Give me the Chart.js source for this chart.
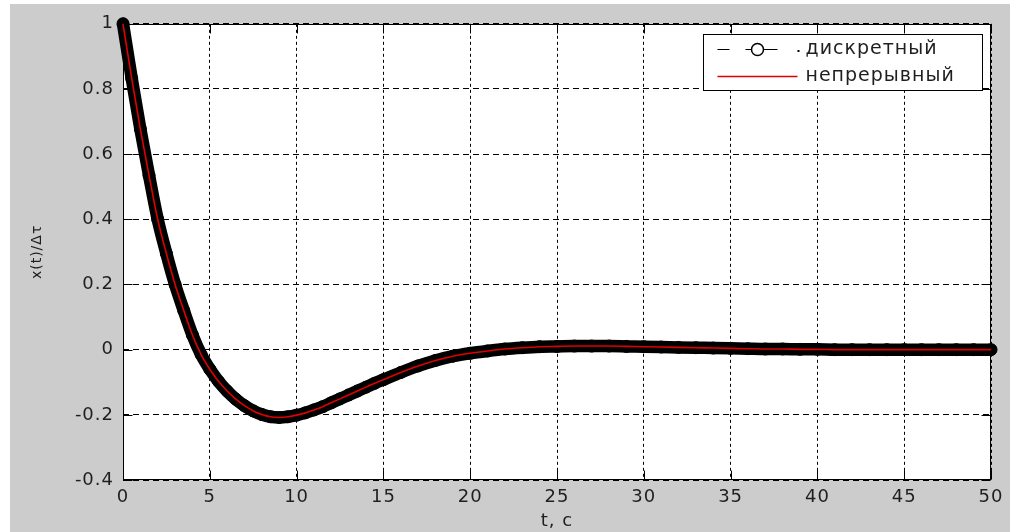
<!DOCTYPE html>
<html><head><meta charset="utf-8">
<script src="https://cdn.jsdelivr.net/npm/chart.js@4/dist/chart.umd.min.js"></script>
<style>
html,body{margin:0;padding:0;background:#fff;overflow:hidden;}
#wrap{position:absolute;left:10px;top:4px;width:1000px;height:528px;background:#cccccc;}
canvas{display:block;}
</style></head><body>
<div id="wrap"><canvas id="c" width="1000" height="528"></canvas></div>
<script>
// ---- data ----
const tValues = [0,0.5,1,1.5,2,2.5,3,3.5,4,4.5,5,5.5,6,6.5,7,7.5,8,8.5,9,9.5,10,10.5,11,11.5,12,12.5,13,13.5,14,14.5,15,16,17,18,19,20,21,22,23,24,25,26,27,28,29,30,31,32,33,34,35,36,37,38,39,40,41,42,43,44,45,46,47,48,49,50];
const xValues = [1.0,0.833,0.677,0.535,0.40,0.295,0.20,0.12,0.045,-0.015,-0.06,-0.097,-0.127,-0.152,-0.172,-0.188,-0.199,-0.206,-0.208,-0.206,-0.201,-0.194,-0.185,-0.175,-0.163,-0.151,-0.139,-0.127,-0.115,-0.103,-0.092,-0.070,-0.050,-0.033,-0.020,-0.011,-0.004,0.002,0.006,0.009,0.010,0.011,0.011,0.011,0.010,0.009,0.008,0.007,0.006,0.005,0.004,0.003,0.002,0.002,0.001,0.001,0,0,0,0,0,0,0,0,0,0];
const xTicks = [0,5,10,15,20,25,30,35,40,45,50];
const xTickLabels = ['0','5','10','15','20','25','30','35','40','45','50'];
const yTicks = [-0.4,-0.2,0,0.2,0.4,0.6,0.8,1];
const yTickLabels = ['-0.4','-0.2','0','0.2','0.4','0.6','0.8','1'];
const seriesNames = ['дискретный','непрерывный'];
const xTitle = 't, c';
const yTitle = 'x(t)/Δτ';

const FONT = 'DejaVu Sans';
const TXT = '#1f1f1f';
const RED = '#e00000';

const pts = tValues.map((t,i)=>({x:t,y:xValues[i]}));

const framePlugin = {
  id:'frame',
  beforeDraw(chart){
    const {ctx, chartArea:a} = chart;
    ctx.letterSpacing='1px';
    ctx.save(); ctx.fillStyle='#fff';
    ctx.fillRect(a.left,a.top,a.right-a.left,a.bottom-a.top);
    ctx.restore();
  },
  beforeDatasetsDraw(chart){
    const {ctx, chartArea:a, scales:{x,y}} = chart;
    const L=Math.round(a.left)+0.5, R=Math.round(a.right)-0.5, T=Math.round(a.top)+0.5, B=Math.round(a.bottom)-0.5;
    ctx.save(); ctx.strokeStyle='#000'; ctx.lineWidth=1; ctx.setLineDash([]);
    ctx.strokeRect(L,T,R-L,B-T);
    const tl=9;
    ctx.beginPath();
    xTicks.forEach(v=>{const p=Math.round(x.getPixelForValue(v))+0.5;
      ctx.moveTo(p,B);ctx.lineTo(p,B-tl);ctx.moveTo(p,T);ctx.lineTo(p,T+tl);});
    yTicks.forEach(v=>{const p=Math.round(y.getPixelForValue(v))+0.5;
      ctx.moveTo(L,p);ctx.lineTo(L+tl,p);ctx.moveTo(R,p);ctx.lineTo(R-tl,p);});
    ctx.stroke(); ctx.restore();
  },
  afterDraw(chart){
    const {ctx, chartArea:a} = chart;
    const w=279,h=56;
    const bx=Math.round(a.right-9-w)+0.5, by=Math.round(a.top+10)+0.5;
    ctx.save();
    ctx.fillStyle='#fff'; ctx.fillRect(bx,by,w,h);
    ctx.strokeStyle='#000'; ctx.lineWidth=1; ctx.setLineDash([]); ctx.strokeRect(bx,by,w,h);
    const y1=by+15, y2=by+42;
    // discrete sample: dash-dot with circle marker
    ctx.strokeStyle='#000'; ctx.lineWidth=1.2;
    ctx.beginPath();
    ctx.moveTo(bx+14,y1);ctx.lineTo(bx+26,y1);
    ctx.moveTo(bx+42,y1);ctx.lineTo(bx+74,y1);
    ctx.stroke();
    ctx.fillStyle='#000'; ctx.fillRect(bx+94,y1+0.5,2,2);
    ctx.beginPath(); ctx.arc(bx+54,y1,6,0,Math.PI*2);
    ctx.fillStyle='#fff'; ctx.fill(); ctx.lineWidth=1.5; ctx.stroke();
    // continuous sample
    ctx.strokeStyle=RED; ctx.lineWidth=1.5;
    ctx.beginPath(); ctx.moveTo(bx+14,y2); ctx.lineTo(bx+94,y2); ctx.stroke();
    ctx.fillStyle=TXT; ctx.font='19px "'+FONT+'"'; ctx.textBaseline='middle'; ctx.textAlign='left';
    ctx.letterSpacing='1px';
    ctx.fillText(seriesNames[0],bx+102,y1);
    ctx.fillText(seriesNames[1],bx+102,y2);
    ctx.restore();
  }
};

new Chart(document.getElementById('c'),{
  type:'line',
  data:{datasets:[
    {label:seriesNames[1],data:pts,borderColor:RED,borderWidth:1.6,pointRadius:0,
     cubicInterpolationMode:'monotone',clip:false,order:0},
    {label:seriesNames[0],data:pts,borderColor:'#000',backgroundColor:'#000',borderWidth:12.5,
     borderCapStyle:'round',borderJoinStyle:'round',pointRadius:6,pointBackgroundColor:'#000',
     pointBorderColor:'#000',pointBorderWidth:1,cubicInterpolationMode:'monotone',clip:false,order:1}
  ]},
  options:{
    responsive:false, animation:false, devicePixelRatio:1,
    layout:{padding:{left:0,top:9,right:19,bottom:0}},
    plugins:{legend:{display:false},tooltip:{enabled:false}},
    scales:{
      x:{type:'linear',min:0,max:50,
        afterBuildTicks:s=>{s.ticks=xTicks.map(v=>({value:v}));},
        afterFit:s=>{s.height=52;},
        ticks:{font:{family:FONT,size:18},color:TXT,padding:7,maxRotation:0,autoSkip:false,
          callback:v=>xTickLabels[xTicks.indexOf(v)]},
        grid:{color:'#000',lineWidth:1,drawTicks:false},
        border:{display:false,dash:[3,3]},
        title:{display:true,text:xTitle,font:{family:FONT,size:18},color:TXT,padding:{top:0,bottom:0}}
      },
      y:{type:'linear',min:-0.4,max:1,
        afterBuildTicks:s=>{s.ticks=yTicks.map(v=>({value:v}));},
        afterFit:s=>{s.width=113;},
        ticks:{font:{family:FONT,size:18},color:TXT,padding:9,autoSkip:false,
          callback:v=>{const i=yTicks.findIndex(t=>Math.abs(t-v)<1e-9);return i<0?'':yTickLabels[i];}},
        grid:{color:'#000',lineWidth:1,drawTicks:false},
        border:{display:false,dash:[6,4]},
        title:{display:true,text:yTitle,font:{family:FONT,size:14},color:TXT,padding:{top:19,bottom:0}}
      }
    }
  },
  plugins:[framePlugin]
});
</script>
</body></html>
